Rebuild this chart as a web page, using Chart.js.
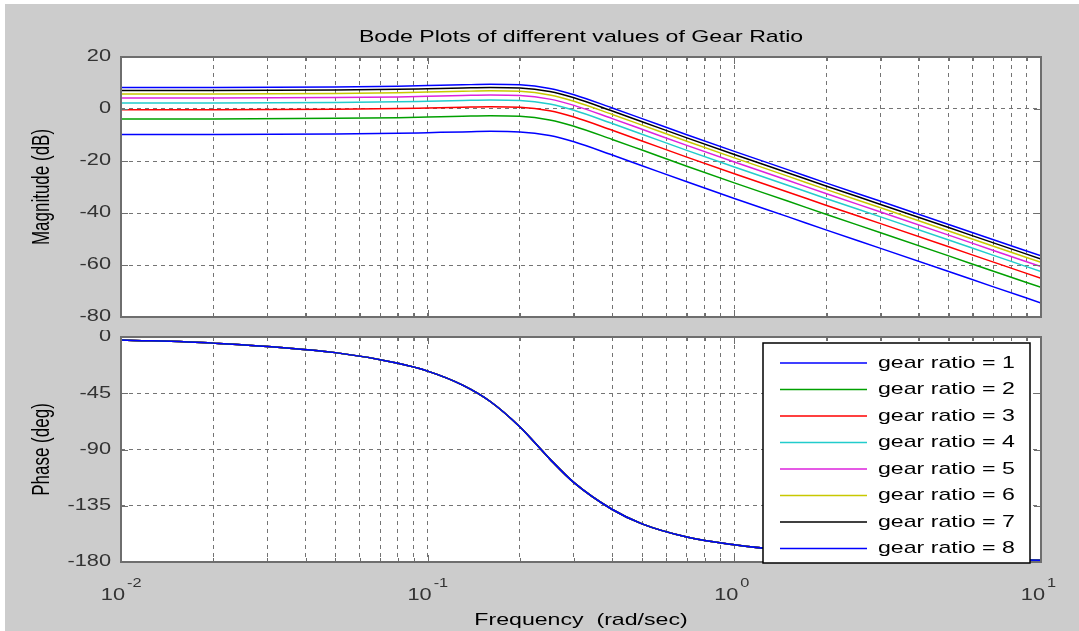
<!DOCTYPE html>
<html>
<head>
<meta charset="utf-8">
<script src="https://cdn.jsdelivr.net/npm/chart.js@4.4.1/dist/chart.umd.min.js"></script>
<style>
  body { margin: 0; background: #fff; width: 1079px; height: 631px; overflow: hidden; position: relative; }
  #bg { position: absolute; left: 5px; top: 4px; right: 0; bottom: 0; background: #cccccc; }
  canvas { position: absolute; left: 0; }
</style>
</head>
<body>
<div id="bg"></div>
<canvas id="mag" width="1079" height="330" style="top:0"></canvas>
<canvas id="phase" width="1079" height="301" style="top:330px"></canvas>
<script>
// frequencies (rad/sec) the curves were read at
const freq = [0.01, 0.02, 0.05, 0.08, 0.1, 0.13, 0.16, 0.2, 0.25, 0.3, 0.4, 0.5, 0.7, 1, 1.5, 2, 3, 5, 7, 10];

// magnitude (dB) for each gear ratio
const magGear1 = [-9.8, -9.8, -9.6, -9.35, -9.1, -8.8, -8.6, -8.8, -10.2, -12.6, -17.7, -21.8, -28.0, -34.4, -41.5, -46.6, -53.6, -62.5, -68.4, -74.6];
const magGear2 = [-3.8, -3.8, -3.6, -3.35, -3.1, -2.8, -2.6, -2.8, -4.2, -6.6, -11.7, -15.8, -22.0, -28.4, -35.5, -40.6, -47.6, -56.5, -62.4, -68.6];
const magGear3 = [-0.3, -0.3, -0.1, 0.15, 0.4, 0.7, 0.9, 0.7, -0.7, -3.1, -8.2, -12.3, -18.5, -24.9, -32.0, -37.1, -44.1, -53.0, -58.9, -65.1];
const magGear4 = [2.3, 2.3, 2.5, 2.75, 3.0, 3.3, 3.5, 3.3, 1.9, -0.5, -5.6, -9.7, -15.9, -22.3, -29.4, -34.5, -41.5, -50.4, -56.3, -62.5];
const magGear5 = [4.2, 4.2, 4.4, 4.65, 4.9, 5.2, 5.4, 5.2, 3.8, 1.4, -3.7, -7.8, -14.0, -20.4, -27.5, -32.6, -39.6, -48.5, -54.4, -60.6];
const magGear6 = [5.8, 5.8, 6.0, 6.25, 6.5, 6.8, 7.0, 6.8, 5.4, 3.0, -2.1, -6.2, -12.4, -18.8, -25.9, -31.0, -38.0, -46.9, -52.8, -59.0];
const magGear7 = [7.1, 7.1, 7.3, 7.55, 7.8, 8.1, 8.3, 8.1, 6.7, 4.3, -0.8, -4.9, -11.1, -17.5, -24.6, -29.7, -36.7, -45.6, -51.5, -57.7];
const magGear8 = [8.3, 8.3, 8.5, 8.75, 9.0, 9.3, 9.5, 9.3, 7.9, 5.5, 0.4, -3.7, -9.9, -16.3, -23.4, -28.5, -35.5, -44.4, -50.3, -56.5];

// phase (deg) - same for every gear ratio
const phaseDeg = [-2.3, -4.9, -12.5, -21, -27.3, -38.5, -51.6, -72, -97.5, -116.5, -138, -149.5, -160, -166.2, -170.9, -173.2, -175.5, -177.3, -178.1, -178.6];

const gearLabels = ['gear ratio = 1', 'gear ratio = 2', 'gear ratio = 3', 'gear ratio = 4',
                    'gear ratio = 5', 'gear ratio = 6', 'gear ratio = 7', 'gear ratio = 8'];
const gearColors = ['#0000ff', '#00a000', '#ff0000', '#22cccc', '#dd22dd', '#c8c800', '#000000', '#0000ff'];

const xGridTicks = [0.01, 0.02, 0.03, 0.04, 0.05, 0.06, 0.07, 0.08, 0.09,
                    0.1, 0.2, 0.3, 0.4, 0.5, 0.6, 0.7, 0.8, 0.9,
                    1, 2, 3, 4, 5, 6, 7, 8, 9, 10];
const xDecades = [0.01, 0.1, 1, 10];
const xDecadeExp = ['-2', '-1', '0', '1'];
const magTicks = [20, 0, -20, -40, -60, -80];
const phaseTicks = [0, -45, -90, -135, -180];

const FONT = '"Liberation Sans", Arial, Helvetica, sans-serif';
const STRETCH = 1.36;
const FRAME = '#6e6e6e';

function drawText(ctx, txt, x, y, size, align, color) {
  ctx.save();
  ctx.font = size + 'px ' + FONT;
  ctx.fillStyle = color || '#000';
  ctx.textAlign = align;
  ctx.textBaseline = 'middle';
  ctx.translate(x, y);
  ctx.scale(STRETCH, 1);
  ctx.fillText(txt, 0, 0);
  ctx.restore();
}

function drawVText(ctx, txt, x, y, size) {
  ctx.save();
  ctx.font = size + 'px ' + FONT;
  ctx.fillStyle = '#000';
  ctx.textAlign = 'center';
  ctx.textBaseline = 'middle';
  ctx.translate(x, y);
  ctx.rotate(-Math.PI / 2);
  ctx.scale(1, STRETCH);
  ctx.fillText(txt, 0, 0);
  ctx.restore();
}

// white plot area, frame, inner tick marks, y tick labels
const axesPlugin = {
  id: 'axesBox',
  beforeDraw(chart) {
    const { ctx, chartArea: a } = chart;
    ctx.save();
    ctx.fillStyle = '#fff';
    ctx.fillRect(a.left, a.top, a.right - a.left, a.bottom - a.top);
    ctx.restore();
  },
  afterDatasetsDraw(chart) {
    const { ctx, chartArea: a, scales } = chart;
    ctx.save();
    ctx.strokeStyle = FRAME;
    ctx.lineWidth = 1;
    ctx.beginPath();
    scales.x.ticks.forEach(t => {
      const px = Math.round(scales.x.getPixelForValue(t.value)) + 0.5;
      const len = xDecades.includes(t.value) ? 7 : 4;
      ctx.moveTo(px, a.top); ctx.lineTo(px, a.top + len);
      ctx.moveTo(px, a.bottom); ctx.lineTo(px, a.bottom - len);
    });
    scales.y.ticks.forEach(t => {
      const py = Math.round(scales.y.getPixelForValue(t.value)) + 0.5;
      ctx.moveTo(a.left, py); ctx.lineTo(a.left + 7, py);
      ctx.moveTo(a.right, py); ctx.lineTo(a.right - 7, py);
    });
    ctx.stroke();
    ctx.lineWidth = 2;
    ctx.strokeRect(a.left, a.top, a.right - a.left, a.bottom - a.top);
    ctx.restore();
    scales.y.ticks.forEach(t => {
      const py = scales.y.getPixelForValue(t.value);
      drawText(ctx, String(t.value), a.left - 10, py, 16, 'right', '#333');
    });
  }
};

const magPlugin = {
  id: 'magText',
  afterDraw(chart) {
    const { ctx, chartArea: a } = chart;
    drawText(ctx, 'Bode Plots of different values of Gear Ratio', (a.left + a.right) / 2, 37, 17, 'center');
    drawVText(ctx, 'Magnitude (dB)', 43, (a.top + a.bottom) / 2, 17);
  }
};

const phasePlugin = {
  id: 'phaseText',
  afterDraw(chart) {
    const { ctx, chartArea: a, scales } = chart;
    drawVText(ctx, 'Phase (deg)', 43, (a.top + a.bottom) / 2, 17);
    xDecades.forEach((v, i) => {
      const px = scales.x.getPixelForValue(v);
      drawText(ctx, '10', px + 4, a.bottom + 34, 16, 'right', '#333');
      drawText(ctx, xDecadeExp[i], px + 6, a.bottom + 22, 12, 'left', '#333');
    });
    drawText(ctx, 'Frequency  (rad/sec)', (a.left + a.right) / 2, a.bottom + 58, 17, 'center');

    // legend box in the lower right corner
    const left = a.right - 278, right = a.right - 11;
    const top = a.top + 6, bottom = a.bottom + 1;
    ctx.save();
    ctx.fillStyle = '#fff';
    ctx.fillRect(left, top, right - left, bottom - top);
    ctx.strokeStyle = '#000';
    ctx.lineWidth = 1.5;
    ctx.strokeRect(left, top, right - left, bottom - top);
    gearLabels.forEach((lab, i) => {
      const y = top + 20 + i * 26.5;
      ctx.strokeStyle = gearColors[i];
      ctx.lineWidth = 1.5;
      ctx.beginPath();
      ctx.moveTo(left + 17, y); ctx.lineTo(left + 104, y);
      ctx.stroke();
      drawText(ctx, lab, left + 115, y, 17, 'left', '#000');
    });
    ctx.restore();
  }
};

function makeScales(yMin, yMax, yStep, yTicks) {
  const grid = { color: '#747474', lineWidth: 1, drawTicks: false };
  const border = { display: false, dash: [4, 4] };
  return {
    x: {
      type: 'logarithmic', min: 0.01, max: 10,
      afterBuildTicks: s => { s.ticks = xGridTicks.map(v => ({ value: v })); },
      afterFit: s => { s.height = 0; },
      ticks: { display: false },
      grid, border
    },
    y: {
      min: yMin, max: yMax,
      afterBuildTicks: s => { s.ticks = yTicks.map(v => ({ value: v })); },
      afterFit: s => { s.width = 121; },
      ticks: { display: false, stepSize: yStep },
      grid, border
    }
  };
}

const magSeries = [magGear1, magGear2, magGear3, magGear4, magGear5, magGear6, magGear7, magGear8];

new Chart(document.getElementById('mag'), {
  type: 'line',
  data: {
    datasets: magSeries.map((arr, i) => ({
      label: gearLabels[i],
      data: freq.map((f, j) => ({ x: f, y: arr[j] })),
      borderColor: gearColors[i],
      borderWidth: 1.5,
      pointRadius: 0,
      cubicInterpolationMode: 'monotone',
      fill: false
    }))
  },
  options: {
    responsive: false,
    animation: false,
    layout: { padding: { left: 0, right: 38, top: 57, bottom: 13 } },
    plugins: { legend: { display: false }, tooltip: { enabled: false } },
    scales: makeScales(-80, 20, 20, magTicks)
  },
  plugins: [axesPlugin, magPlugin]
});

new Chart(document.getElementById('phase'), {
  type: 'line',
  data: {
    datasets: gearLabels.map((lab, i) => ({
      label: lab,
      data: freq.map((f, j) => ({ x: f, y: phaseDeg[j] })),
      borderColor: gearColors[i],
      borderWidth: 1.5,
      pointRadius: 0,
      cubicInterpolationMode: 'monotone',
      fill: false
    }))
  },
  options: {
    responsive: false,
    animation: false,
    layout: { padding: { left: 0, right: 38, top: 7, bottom: 69 } },
    plugins: { legend: { display: false }, tooltip: { enabled: false } },
    scales: makeScales(-180, 0, 45, phaseTicks)
  },
  plugins: [axesPlugin, phasePlugin]
});
</script>
</body>
</html>
